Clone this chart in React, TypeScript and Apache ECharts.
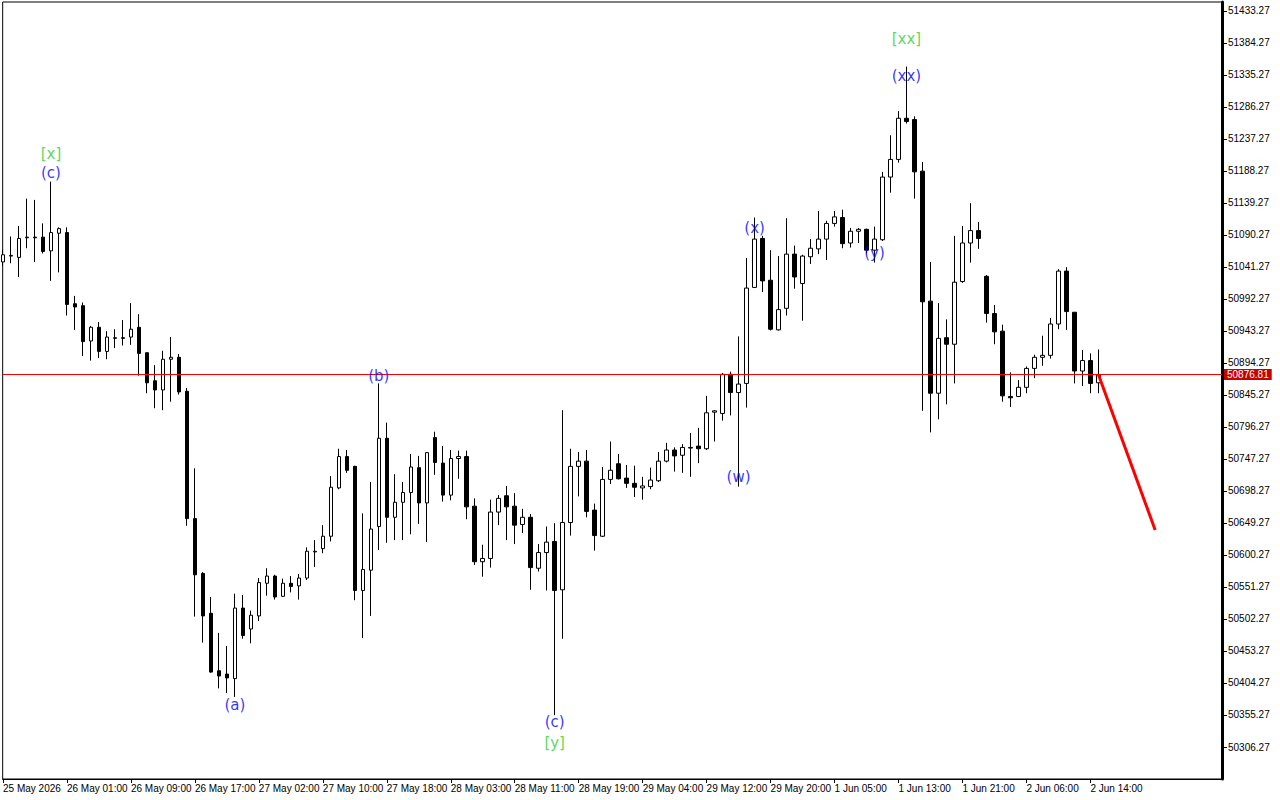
import React, { useEffect, useRef } from "react";
import * as echarts from "echarts";

// x-axis tick positions (bar index) and their labels
const xTickIndex = [0, 8, 16, 24, 32, 40, 48, 56, 64, 72, 80, 88, 96, 104, 112, 120, 128, 136];
const xTickLabels = [
  "25 May 2026", "26 May 01:00", "26 May 09:00", "26 May 17:00", "27 May 02:00", "27 May 10:00",
  "27 May 18:00", "28 May 03:00", "28 May 11:00", "28 May 19:00", "29 May 04:00", "29 May 12:00",
  "29 May 20:00", "1 Jun 05:00", "1 Jun 13:00", "1 Jun 21:00", "2 Jun 06:00", "2 Jun 14:00",
];

// y-axis tick values
const yTicks = [
  50306.27, 50355.27, 50404.27, 50453.27, 50502.27, 50551.27, 50600.27, 50649.27, 50698.27,
  50747.27, 50796.27, 50845.27, 50894.27, 50943.27, 50992.27, 51041.27, 51090.27, 51139.27,
  51188.27, 51237.27, 51286.27, 51335.27, 51384.27, 51433.27,
];

// hourly bars: [open, close, low, high]
const candles = [
  [51049, 51060, 51043, 51067], [51058, 51059, 51047, 51088], [51056, 51085, 51026, 51104],
  [51086, 51087, 51070, 51146], [51087, 51086, 51049, 51144], [51087, 51065, 51062, 51108],
  [51066, 51094, 51020, 51172], [51093, 51100, 51033, 51102], [51094, 50984, 50967, 51102],
  [50985, 50980, 50945, 50997], [50982, 50927, 50905, 50987], [50928, 50949, 50898, 50951],
  [50949, 50912, 50902, 50957], [50912, 50934, 50900, 50943], [50932, 50933, 50917, 50946],
  [50933, 50932, 50921, 50960], [50934, 50946, 50922, 50986], [50949, 50909, 50875, 50969],
  [50910, 50864, 50848, 50910], [50867, 50853, 50825, 50891], [50853, 50900, 50822, 50913],
  [50900, 50903, 50835, 50934], [50903, 50850, 50846, 50908], [50851, 50656, 50645, 50856],
  [50656, 50570, 50506, 50733], [50572, 50507, 50466, 50574], [50511, 50421, 50420, 50536],
  [50423, 50415, 50396, 50481], [50418, 50412, 50389, 50461], [50411, 50519, 50383, 50541],
  [50519, 50477, 50472, 50539], [50487, 50508, 50465, 50515], [50507, 50558, 50499, 50565],
  [50557, 50568, 50538, 50580], [50568, 50536, 50532, 50570], [50537, 50557, 50536, 50564],
  [50557, 50552, 50543, 50568], [50553, 50565, 50532, 50571], [50565, 50606, 50562, 50612],
  [50605, 50606, 50582, 50623], [50610, 50629, 50603, 50646], [50629, 50704, 50621, 50721],
  [50703, 50751, 50701, 50763], [50751, 50730, 50726, 50761], [50736, 50546, 50531, 50737],
  [50546, 50578, 50473, 50664], [50577, 50640, 50507, 50712], [50644, 50779, 50608, 50863],
  [50779, 50658, 50619, 50803], [50658, 50681, 50623, 50724], [50681, 50696, 50623, 50712],
  [50696, 50735, 50632, 50755], [50734, 50680, 50648, 50752], [50680, 50757, 50620, 50758],
  [50780, 50742, 50723, 50789], [50741, 50692, 50682, 50767], [50692, 50748, 50684, 50761],
  [50748, 50751, 50717, 50760], [50751, 50674, 50655, 50760], [50675, 50590, 50585, 50687],
  [50590, 50595, 50567, 50616], [50595, 50666, 50581, 50685], [50666, 50687, 50646, 50692],
  [50691, 50674, 50623, 50706], [50675, 50646, 50617, 50695], [50647, 50658, 50634, 50671],
  [50658, 50581, 50547, 50663], [50580, 50604, 50575, 50617], [50604, 50620, 50546, 50644],
  [50621, 50546, 50355, 50649], [50547, 50650, 50472, 50822], [50650, 50736, 50630, 50763],
  [50736, 50744, 50690, 50758], [50744, 50667, 50658, 50761], [50669, 50630, 50607, 50679],
  [50629, 50716, 50628, 50735], [50716, 50730, 50709, 50774], [50740, 50717, 50716, 50755],
  [50718, 50710, 50703, 50738], [50710, 50704, 50689, 50737], [50703, 50706, 50685, 50720],
  [50705, 50715, 50701, 50734], [50714, 50744, 50712, 50758], [50744, 50761, 50742, 50772],
  [50761, 50752, 50728, 50765], [50753, 50765, 50726, 50770], [50764, 50765, 50720, 50787],
  [50767, 50763, 50741, 50795], [50763, 50818, 50761, 50844], [50819, 50821, 50774, 50822],
  [50817, 50877, 50806, 50879], [50877, 50849, 50814, 50881], [50849, 50862, 50705, 50935],
  [50863, 51009, 50826, 51055], [51010, 51084, 51009, 51117], [51085, 51020, 51003, 51089],
  [51021, 50946, 50944, 51067], [50945, 50976, 50944, 51058], [50978, 51061, 50967, 51116],
  [51061, 51026, 51008, 51074], [51016, 51058, 50959, 51060], [51057, 51070, 51046, 51084],
  [51069, 51084, 51061, 51127], [51084, 51108, 51052, 51112], [51108, 51118, 51103, 51127],
  [51117, 51077, 51070, 51129], [51078, 51096, 51071, 51101], [51096, 51099, 51078, 51101],
  [51099, 51067, 51062, 51100], [51067, 51084, 51048, 51103], [51083, 51179, 51081, 51187],
  [51179, 51206, 51155, 51243], [51206, 51269, 51201, 51280], [51269, 51264, 51261, 51348],
  [51267, 51187, 51146, 51272], [51188, 50988, 50821, 51202], [50989, 50848, 50788, 51049],
  [50848, 50932, 50808, 50986], [50933, 50923, 50831, 50961], [50923, 51018, 50863, 51089],
  [51019, 51078, 51017, 51104], [51078, 51097, 51048, 51139], [51097, 51085, 51069, 51110],
  [51027, 50970, 50956, 51029], [50970, 50942, 50923, 50983], [50943, 50844, 50835, 50953],
  [50843, 50841, 50827, 50880], [50843, 50857, 50842, 50868], [50857, 50886, 50848, 50889],
  [50886, 50903, 50871, 50907], [50903, 50906, 50890, 50936], [50906, 50954, 50901, 50963],
  [50954, 51035, 50946, 51038], [51035, 50973, 50945, 51041], [50972, 50882, 50863, 50972],
  [50882, 50898, 50859, 50914], [50898, 50863, 50848, 50909], [50864, 50876.81, 50848, 50915],
];

const bidPrice = 50876.81;

// forecast segment: [bar index, price]
const forecast = [
  [137, 50876.81],
  [144.1, 50638.6],
];

// wave labels
const waveText = ["[x]", "(c)", "(a)", "(b)", "(c)", "[y]", "(w)", "(x)", "(y)", "(xx)", "[xx]"];
const waveIndex = [6, 6, 29, 47, 69, 69, 92, 94, 109, 113, 113];
const wavePrice = [51214, 51185, 50371, 50874, 50345, 50312, 50720, 51101, 51063, 51334, 51390];

const AXIS_FONT = "Liberation Sans";

export default function App() {
  const ref = useRef<HTMLDivElement>(null);

  useEffect(() => {
    if (!ref.current) return;
    const chart = echarts.init(ref.current, null, { renderer: "svg" });

    const candleData = candles.map((c, i) => [i, c[0], c[1], c[2], c[3]]);

    chart.setOption({
      animation: false,
      backgroundColor: "#ffffff",
      grid: {
        left: 2,
        top: 2,
        right: 58,
        bottom: 21,
        show: true,
        borderColor: "#000000",
        borderWidth: 1,
        backgroundColor: "#ffffff",
      },
      xAxis: {
        type: "value",
        min: -0.04,
        max: 152.46,
        axisLine: { show: true, onZero: false, lineStyle: { color: "#000000", width: 1 } },
        axisTick: {
          show: true,
          length: 4,
          customValues: xTickIndex,
          lineStyle: { color: "#000000" },
        },
        axisLabel: {
          show: true,
          customValues: xTickIndex,
          formatter: (v: number) => {
            const k = xTickIndex.indexOf(Math.round(v));
            return k >= 0 ? xTickLabels[k] : "";
          },
          align: "left",
          margin: 4,
          color: "#000000",
          fontFamily: AXIS_FONT,
          fontSize: 10,
          hideOverlap: false,
        },
        splitLine: { show: false },
      },
      yAxis: {
        type: "value",
        position: "right",
        min: 50257.27,
        max: 51447.05,
        axisLine: { show: true, onZero: false, lineStyle: { color: "#000000", width: 3 } },
        axisTick: {
          show: true,
          length: 5,
          customValues: yTicks,
          lineStyle: { color: "#000000" },
        },
        axisLabel: {
          show: true,
          customValues: yTicks,
          formatter: (v: number) => v.toFixed(2),
          margin: 6,
          color: "#000000",
          fontFamily: AXIS_FONT,
          fontSize: 10,
          hideOverlap: false,
        },
        splitLine: { show: false },
      },
      series: [
        {
          type: "candlestick",
          data: candleData,
          encode: { x: 0, y: [1, 2, 3, 4] },
          barWidth: 4,
          itemStyle: {
            color: "#ffffff",
            color0: "#000000",
            borderColor: "#000000",
            borderColor0: "#000000",
            borderWidth: 1,
          },
          silent: true,
          markLine: {
            silent: true,
            symbol: ["none", "none"],
            lineStyle: { color: "#ff0000", width: 1, type: "solid" },
            label: {
              show: true,
              position: "end",
              formatter: () => bidPrice.toFixed(2),
              color: "#ffffff",
              backgroundColor: "#c80000",
              padding: [1, 3, 0, 3],
              fontFamily: AXIS_FONT,
              fontSize: 10,
              distance: 2,
            },
            data: [{ yAxis: bidPrice }],
          },
        },
        {
          type: "line",
          data: forecast,
          showSymbol: false,
          symbol: "none",
          lineStyle: { color: "#ff0000", width: 3 },
          silent: true,
          z: 5,
        },
        {
          type: "scatter",
          data: waveText.map((t, k) => ({
            value: [waveIndex[k], wavePrice[k]],
            name: t,
            label: { color: t.startsWith("[") ? "#32cd32" : "#0000ff" },
          })),
          symbolSize: 0,
          itemStyle: { color: "transparent" },
          label: {
            show: true,
            position: "inside",
            formatter: "{b}",
            fontFamily: "DejaVu Sans",
            fontSize: 15,
          },
          silent: true,
          z: 10,
        },
      ],
    });

    return () => chart.dispose();
  }, []);

  return (
    <div
      ref={ref}
      style={{ position: "fixed", left: 0, top: 0, width: 1280, height: 800, background: "#fff" }}
    />
  );
}
